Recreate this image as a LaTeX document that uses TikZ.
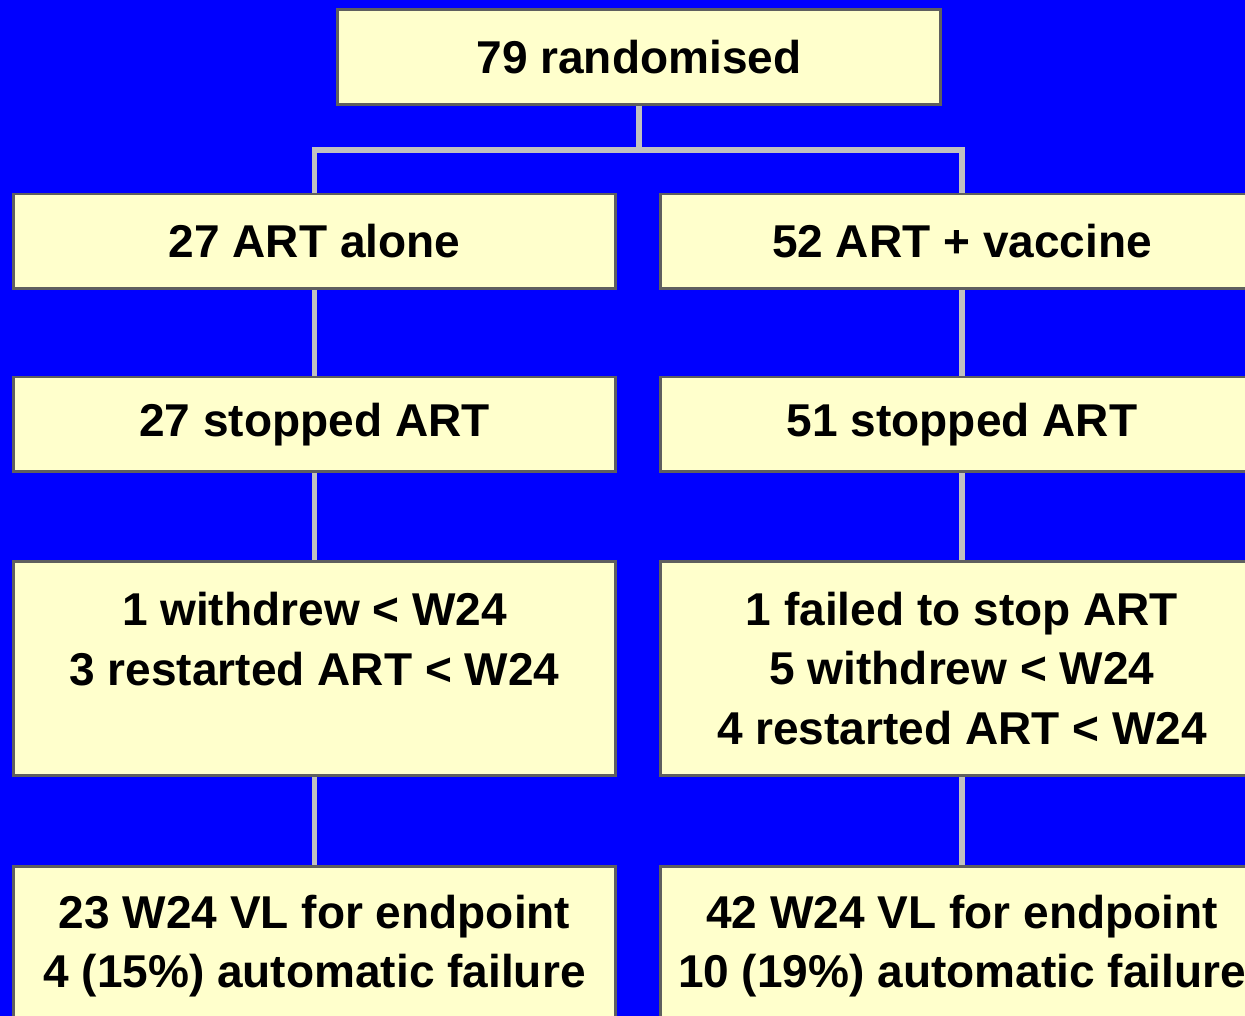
\documentclass[tikz,border=0pt]{standalone}
\usepackage{fontspec}
\setmainfont{Liberation Sans}
\definecolor{slideblue}{HTML}{0000FF}
\definecolor{boxfill}{HTML}{FFFFCC}
\definecolor{boxline}{HTML}{5F5F5F}
\definecolor{linkgray}{HTML}{C0C0C0}
\tikzset{
  box/.style={draw=boxline, line width=1.7pt, fill=boxfill, minimum width=12.05cm,
    minimum height=1.9cm, align=center, inner sep=0pt,
    font={\fontsize{26.2}{34}\selectfont\bfseries}},
  link/.style={draw=linkgray, line width=3.4pt}
}
\begin{document}
\begin{tikzpicture}[x=0.02cm,y=-0.02cm]
    \useasboundingbox (0,0) rectangle (1245,1016);
    \clip (0,0) rectangle (1245,1016);
    \fill[slideblue] (0,0) rectangle (1245,1016);
    \node[box] (rand) at (639,57) {79 randomised};
    \node[box] (artA) at (314.5,241.5) {27 ART alone};
    \node[box] (artV) at (962,241.5) {52 ART + vaccine};
    \node[box] (stopA) at (314.5,424.5) {27 stopped ART};
    \node[box] (stopV) at (962,424.5) {51 stopped ART};
    \node[box, minimum height=4.3cm] (lossA) at (314.5,668.5)
      {1 withdrew < W24\\3 restarted ART < W24\\\mbox{}};
    \node[box, minimum height=4.3cm] (lossV) at (962,668.5)
      {1 failed to stop ART\\5 withdrew < W24\\4 restarted ART < W24};
    \node[box, minimum height=3.2cm] (endA) at (314.5,946)
      {23 W24 VL for endpoint\\4 (15\%) automatic failure};
    \node[box, minimum height=3.2cm] (endV) at (962,946)
      {42 W24 VL for endpoint\\10 (19\%) automatic failure};
    \draw[link] (rand.south) -- ++(0,44) -| (artA.north);
    \draw[link] (rand.south) -- ++(0,44) -| (artV.north);
    \foreach \a/\b in {artA/stopA, stopA/lossA, lossA/endA,
                       artV/stopV, stopV/lossV, lossV/endV} {
      \draw[link] (\a.south) -- (\b.north);
    }
  \end{tikzpicture}
\end{document}
